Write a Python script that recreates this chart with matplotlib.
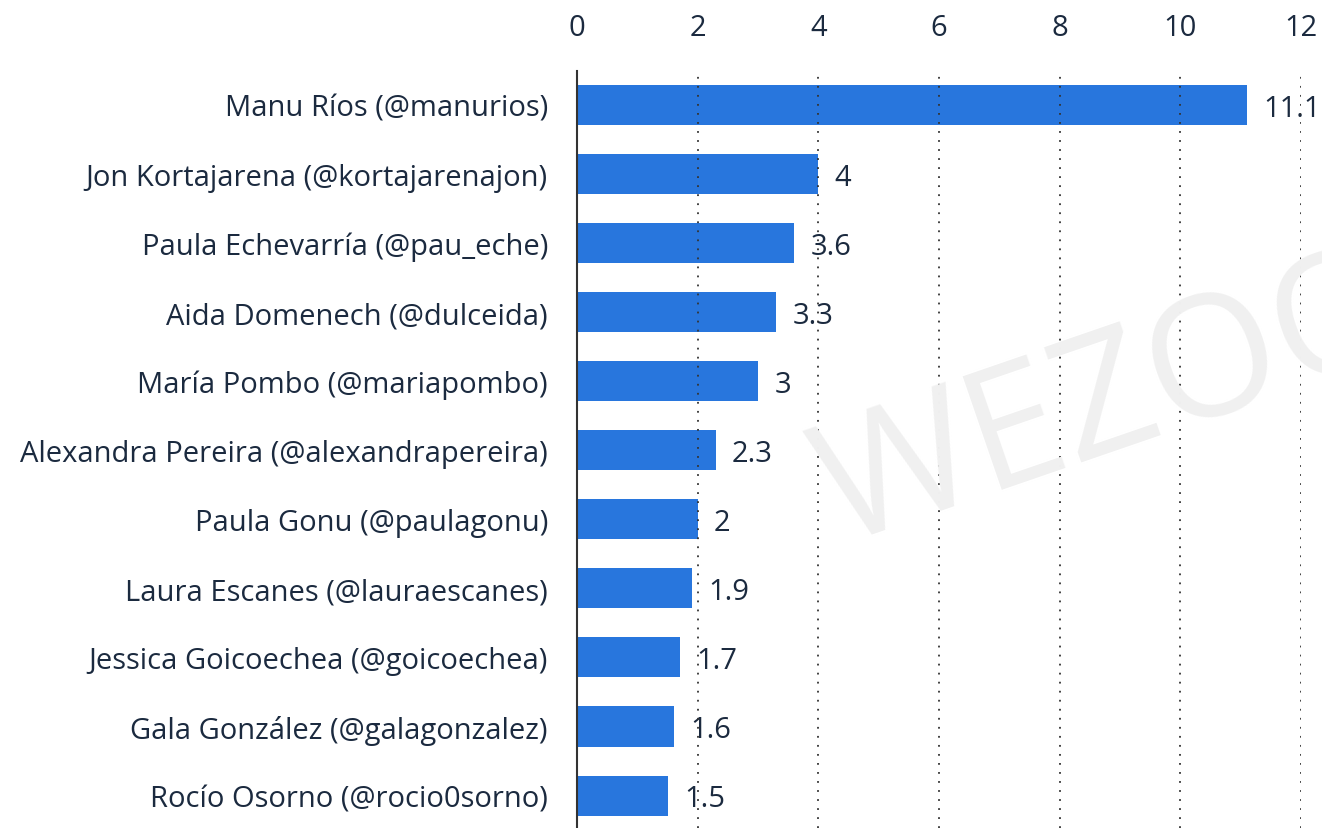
import matplotlib
matplotlib.use("Agg")
import matplotlib.pyplot as plt

# Influencer accounts and follower counts (millions)
names = [
    "Manu Ríos (@manurios)",
    "Jon Kortajarena (@kortajarenajon)",
    "Paula Echevarría (@pau_eche)",
    "Aida Domenech (@dulceida)",
    "María Pombo (@mariapombo)",
    "Alexandra Pereira (@alexandrapereira)",
    "Paula Gonu (@paulagonu)",
    "Laura Escanes (@lauraescanes)",
    "Jessica Goicoechea (@goicoechea)",
    "Gala González (@galagonzalez)",
    "Rocío Osorno (@rocio0sorno)",
]
followers = [11.1, 4, 3.6, 3.3, 3, 2.3, 2, 1.9, 1.7, 1.6, 1.5]
xticks = [0, 2, 4, 6, 8, 10, 12]

BAR = "#2876dd"
TEXT = "#1b2a3f"

plt.rcParams["font.family"] = ["Open Sans", "DejaVu Sans"]

fig = plt.figure(figsize=(13.22, 8.29), dpi=100)
ax = fig.add_axes([0.4365, 0.0, 0.5477, 0.913])

# faint watermark behind everything
fig.text(0.603, 0.345, "WEZOOM", fontsize=122, color="#f0f0f0",
         rotation=19, ha="left", va="baseline", zorder=0)
ax.set_facecolor("none")

ypos = list(range(len(names)))
ax.barh(ypos, followers, height=0.58, color=BAR, zorder=2)

for y, v in zip(ypos, followers):
    ax.text(v + 0.27, y + 0.05, f"{v:g}", va="center", ha="left",
            fontsize=21, color=TEXT, zorder=1)

ax.set_xlim(0, 12)
ax.set_ylim(10.47, -0.49)
ax.set_yticks(ypos)
ax.set_yticklabels(names, fontsize=21, color=TEXT)
ax.set_xticks(xticks)
ax.set_xticklabels([str(t) for t in xticks], fontsize=21, color=TEXT)
ax.xaxis.tick_top()
ax.tick_params(axis="x", length=0, pad=21)
ax.tick_params(axis="y", length=0, pad=21)

for t in xticks[1:]:
    ax.axvline(t, color="#333333", linestyle=(0, (1, 4)), linewidth=1.3, zorder=3)

for s in ["top", "right", "bottom"]:
    ax.spines[s].set_visible(False)
ax.spines["left"].set_color("#333333")
ax.spines["left"].set_linewidth(1.5)
ax.spines["left"].set_zorder(4)

fig.savefig("out.png", dpi=100)
